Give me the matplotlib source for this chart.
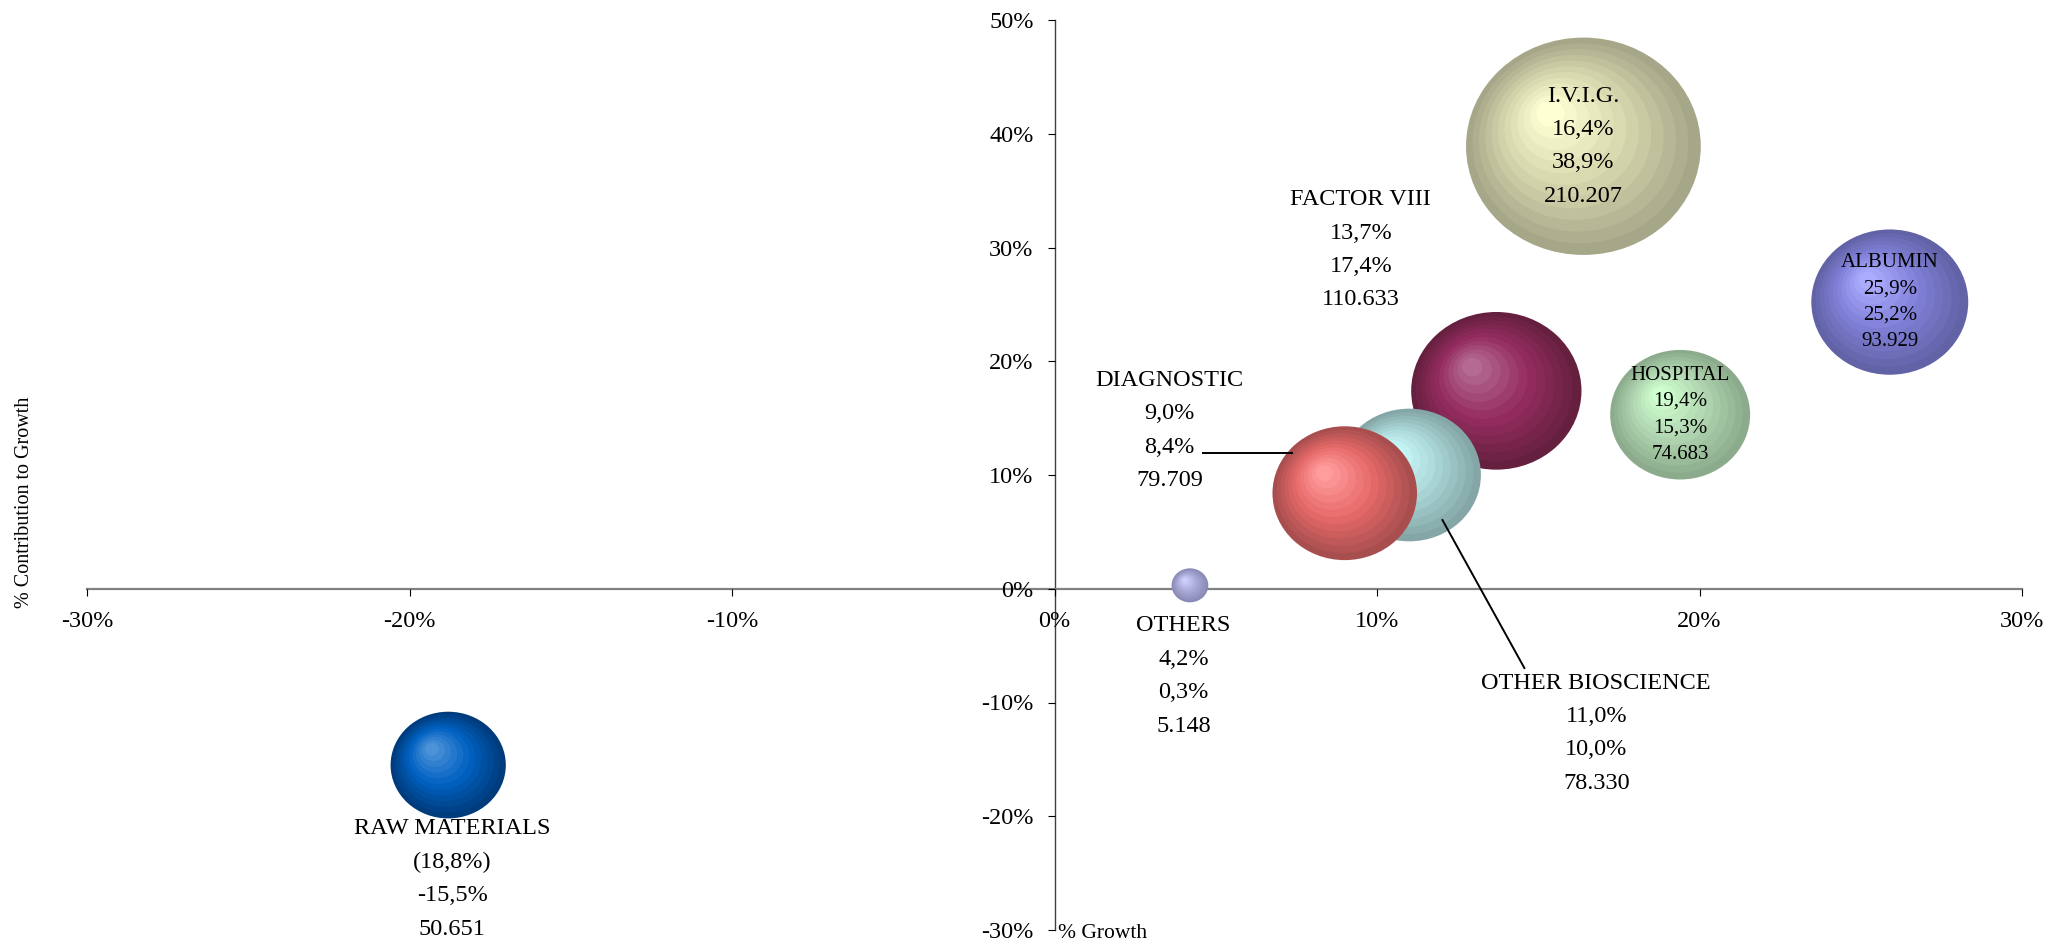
import numpy as np
import matplotlib
matplotlib.use('Agg')
import matplotlib.pyplot as plt
from matplotlib.patches import Ellipse
from matplotlib.colors import LinearSegmentedColormap

plt.rcParams['font.family'] = ['Liberation Serif', 'DejaVu Serif']

# Business units: growth (%), contribution to growth (%), sales
names = ['I.V.I.G.', 'ALBUMIN', 'HOSPITAL', 'FACTOR VIII', 'OTHER BIOSCIENCE',
         'DIAGNOSTIC', 'OTHERS', 'RAW MATERIALS']
growth = [16.4, 25.9, 19.4, 13.7, 11.0, 9.0, 4.2, -18.8]
contribution = [38.9, 25.2, 15.3, 17.4, 10.0, 8.4, 0.3, -15.5]
sales = [210207, 93929, 74683, 110633, 78330, 79709, 5148, 50651]

x_ticks = [-30, -20, -10, 0, 10, 20, 30]
y_ticks = [-30, -20, -10, 0, 10, 20, 30, 40, 50]

# bubble shading: rim, body, highlight
shades = {
    'I.V.I.G.': ('#a6a688', '#d6d6ad', '#ffffd4'),
    'ALBUMIN': ('#6262a6', '#8080d8', '#acacff'),
    'HOSPITAL': ('#8cab8c', '#b0d6b0', '#d0ffd0'),
    'FACTOR VIII': ('#66203f', '#952c60', '#b46a92'),
    'OTHER BIOSCIENCE': ('#84a6a6', '#acd8d8', '#ceffff'),
    'DIAGNOSTIC': ('#a84e4e', '#e86a6a', '#ff9c9c'),
    'OTHERS': ('#8a8ab6', '#a9a9d8', '#d0d0ff'),
    'RAW MATERIALS': ('#003b7c', '#0061c2', '#4c92d8'),
}

# labels that sit outside their bubble (data coordinates of the text block)
label_at = {
    'FACTOR VIII': (9.5, 29.8),
    'DIAGNOSTIC': (3.57, 13.9),
    'OTHER BIOSCIENCE': (16.8, -12.7),
    'OTHERS': (4.0, -7.67),
    'RAW MATERIALS': (-18.68, -25.5),
}
small_labels = ['ALBUMIN', 'HOSPITAL']


def pct(v):
    if v < 0:
        return '({:.1f}%)'.format(-v).replace('.', ',')
    return '{:.1f}%'.format(v).replace('.', ',')


def contrib(v):
    return '{:.1f}%'.format(v).replace('.', ',')


def thousands(v):
    return '{:,}'.format(v).replace(',', '.')


W, H, DPI = 2048, 943, 100
fig = plt.figure(figsize=(W / DPI, H / DPI), dpi=DPI)
ax = fig.add_axes([87 / W, 13 / H, 1935 / W, 910 / H])
ax.set_xlim(-30, 30)
ax.set_ylim(-30, 50)

pos = ax.get_position()
px_x = pos.width * W / 60.0
px_y = pos.height * H / 80.0

# spines through the origin
for side in ['top', 'right']:
    ax.spines[side].set_visible(False)
ax.spines['left'].set_position(('data', 0))
ax.spines['bottom'].set_position(('data', 0))
ax.spines['bottom'].set_color('#808080')
ax.spines['bottom'].set_linewidth(1.6)
ax.spines['left'].set_color('#404040')
ax.spines['left'].set_linewidth(1.0)
ax.spines['left'].set_zorder(1)
ax.spines['bottom'].set_zorder(1)

ax.set_xticks(x_ticks)
ax.set_xticklabels(['{}%'.format(t) for t in x_ticks])
ax.set_yticks(y_ticks)
ax.set_yticklabels(['{}%'.format(t) for t in y_ticks])
ax.tick_params(axis='x', direction='out', length=5, width=0.8, pad=11, labelsize=17.5)
ax.tick_params(axis='y', direction='out', length=5, width=0.8, pad=10, labelsize=17.5)


def draw_bubble(x, y, value, colors, z):
    w_px = 0.512 * np.sqrt(value)
    h_px = w_px / 1.08
    w = w_px / px_x
    h = h_px / px_y
    cmap = LinearSegmentedColormap.from_list('shade', list(colors))
    n = 12
    for i in range(n):
        t = i / (n - 1)
        s = 1 - 0.88 * t
        cx = x - 0.28 * t * w / 2
        cy = y + 0.30 * t * h / 2
        ax.add_patch(Ellipse((cx, cy), w * s, h * s, facecolor=cmap(t),
                             edgecolor='none', zorder=z))


for k, name in enumerate(names):
    draw_bubble(growth[k], contribution[k], sales[k], shades[name], 3 + k * 0.1)

# data labels
for k, name in enumerate(names):
    lines = [name, pct(growth[k]), contrib(contribution[k]), thousands(sales[k])]
    if name in small_labels:
        size, step = 15, 19.0
    else:
        size, step = 17.5, 24.1
    lx, ly = label_at.get(name, (growth[k], contribution[k]))
    for i, line in enumerate(lines):
        ax.annotate(line, xy=(lx, ly), xytext=(0, (1.5 - i) * step),
                    textcoords='offset points', ha='center', va='center',
                    fontsize=size, zorder=10)

# leader lines
ax.plot([4.62, 7.35], [11.93, 11.93], color='black', lw=1.4, zorder=9)
ax.plot([12.03, 14.57], [6.04, -6.97], color='black', lw=1.4, zorder=9)

ax.text(0.1, -30.7, '% Growth', ha='left', va='baseline', fontsize=15.5)
fig.text(25 / W, 1 - 502 / H, '% Contribution to Growth', rotation=90,
         ha='center', va='center', fontsize=14.5)

fig.savefig('out.png', dpi=DPI)
